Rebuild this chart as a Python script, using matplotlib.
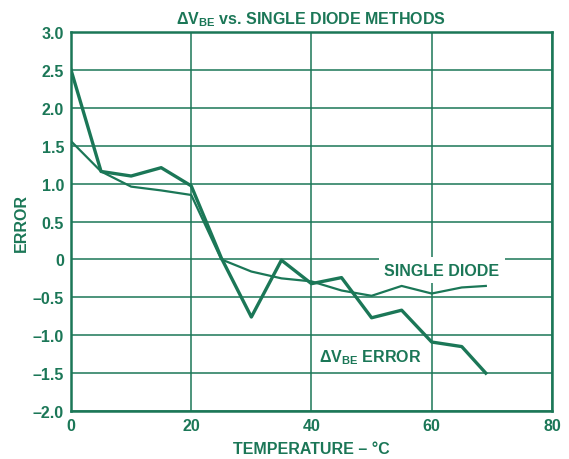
import numpy as np
import matplotlib.pyplot as plt

# temperature points (deg C) and error readings for each method
temps = [0, 5, 10, 15, 20, 25, 30, 35, 40, 45, 50, 55, 60, 65, 69]
dvbe_error = [2.5, 1.16, 1.1, 1.21, 0.97, 0.02, -0.76, -0.01, -0.32, -0.24, -0.77, -0.67, -1.09, -1.15, -1.5]
single_diode = [1.56, 1.16, 0.96, 0.91, 0.85, 0.0, -0.16, -0.25, -0.29, -0.41, -0.48, -0.35, -0.45, -0.37, -0.35]

xticks = [0, 20, 40, 60, 80]
yticks = [3.0, 2.5, 2.0, 1.5, 1.0, 0.5, 0, -0.5, -1.0, -1.5, -2.0]
ytick_labels = ['3.0', '2.5', '2.0', '1.5', '1.0', '0.5', '0', '\u20130.5', '\u20131.0', '\u20131.5', '\u20132.0']

green = '#1b7757'
fs = 11.5

plt.rcParams['font.family'] = ['Liberation Sans', 'DejaVu Sans']
plt.rcParams['font.weight'] = 'bold'
plt.rcParams['mathtext.fontset'] = 'custom'
plt.rcParams['mathtext.rm'] = 'Liberation Sans:bold'
plt.rcParams['mathtext.bf'] = 'Liberation Sans:bold'
plt.rcParams['mathtext.it'] = 'Liberation Sans:bold'

fig = plt.figure(figsize=(5.69, 4.60), dpi=100)
ax = fig.add_axes([0.1248, 0.1043, 0.8452, 0.824])

ax.plot(temps, single_diode, color=green, lw=1.6, zorder=3)
ax.plot(temps, dvbe_error, color=green, lw=2.4, zorder=3)

ax.set_xlim(0, 80)
ax.set_ylim(-2.0, 3.0)
ax.set_xticks(xticks)
ax.set_yticks(yticks)
ax.set_yticklabels(ytick_labels)
ax.tick_params(length=0, labelsize=fs, colors=green, pad=5)
for lbl in ax.get_xticklabels() + ax.get_yticklabels():
    lbl.set_fontweight('bold')
ax.grid(True, color=green, lw=1.1)
ax.set_axisbelow(True)
for sp in ax.spines.values():
    sp.set_color(green)
    sp.set_linewidth(1.8)

ax.set_xlabel('TEMPERATURE \u2013 \u00b0C', fontsize=fs, fontweight='bold', color=green, labelpad=6)
ax.set_ylabel('ERROR', fontsize=fs, fontweight='bold', color=green, labelpad=3)
ax.set_title(r'$\Delta\mathrm{V}_{\mathrm{BE}}$ vs. SINGLE DIODE METHODS', fontsize=fs,
             fontweight='bold', color=green, pad=6)

ax.text(61.7, -0.14, 'SINGLE DIODE', fontsize=fs, fontweight='bold', color=green,
        ha='center', va='center', zorder=4,
        bbox=dict(facecolor='white', edgecolor='none', pad=4))
ax.text(49.7, -1.28, r'$\Delta\mathrm{V}_{\mathrm{BE}}$ ERROR', fontsize=fs, fontweight='bold',
        color=green, ha='center', va='center', zorder=4)

fig.savefig('out.png', dpi=100)
